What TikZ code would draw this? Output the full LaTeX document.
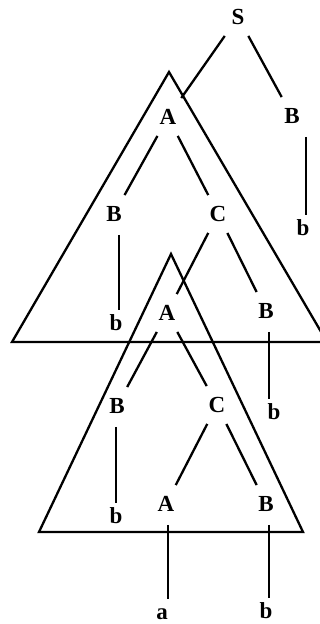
\documentclass[tikz,border=0pt]{standalone}
\usepackage{fontspec}
\setmainfont{Liberation Serif}
\usetikzlibrary{positioning}
\definecolor{TreeInk}{HTML}{000000}
\tikzset{
  sym/.style={
    inner xsep=2pt,
    inner ysep=11pt,
    minimum width=32pt,
    text height=15.5pt,
    text depth=0pt,
    font=\bfseries\fontsize{23}{25}\selectfont,
    text=TreeInk
  },
  leaf/.style={sym,inner ysep=5pt},
  branch/.style={line width=2.3pt,draw=TreeInk},
  stem/.style={branch,shorten <=2pt},
  subtree/.style={line width=2.3pt,draw=TreeInk}
}
\begin{document}
\begin{tikzpicture}[x=1pt,y=-1pt,on grid]
  \path[use as bounding box] (0,0) rectangle (320,624);
  % the two subtree triangles
  \draw[subtree] (169,72) -- (12,342) -- (327,342) -- cycle;
  \draw[subtree] (171,254) -- (39,532) -- (303,532) -- cycle;
  \node[sym] (S) at (238,17) {S};
  \node[sym,below left=100pt and 70pt of S] (A1) {A};
  \node[sym,below right=99pt and 54pt of S] (B0) {B};
  \node[leaf,below right=112pt and 11pt of B0] (b0) {b};
  \node[sym,below left=97pt and 54pt of A1] (B1) {B};
  \node[sym,below right=97pt and 50pt of A1] (C1) {C};
  \node[leaf,below right=109pt and 2pt of B1] (b1) {b};
  \node[sym,below left=99pt and 51pt of C1] (A2) {A};
  \node[sym,below right=97pt and 48pt of C1] (B2) {B};
  \node[leaf,below right=101pt and 8pt of B2] (b2) {b};
  \node[sym,below left=93pt and 50pt of A2] (B3) {B};
  \node[sym,below right=92pt and 50pt of A2] (C3) {C};
  \node[leaf,below left=110pt and 1pt of B3] (b3) {b};
  \node[sym,below left=99pt and 51pt of C3] (A4) {A};
  \node[sym,below right=99pt and 49pt of C3] (B4) {B};
  \node[leaf,below left=108pt and 4pt of A4] (a4) {a};
  \node[leaf,below=107pt of B4] (b4) {b};
  \draw[branch] (S) -- (A1);
  \draw[branch] (S) -- (B0);
  \draw[stem] ([xshift=14pt]B0.south) -- ([xshift=3pt]b0.north);
  \draw[branch] (A1) -- (B1);
  \draw[branch] (A1) -- (C1);
  \draw[stem] ([xshift=5pt]B1.south) -- ([xshift=3pt]b1.north);
  \draw[branch] (C1) -- (A2);
  \draw[branch] (C1) -- (B2);
  \draw[stem] ([xshift=3pt]B2.south) -- ([xshift=-5pt]b2.north);
  \draw[branch] (A2) -- (B3);
  \draw[branch] (A2) -- (C3);
  \draw[stem] ([xshift=-1pt]B3.south) -- (b3.north);
  \draw[branch] (C3) -- (A4);
  \draw[branch] (C3) -- (B4);
  \draw[stem] ([xshift=2pt]A4.south) -- ([xshift=6pt]a4.north);
  \draw[stem] ([xshift=3pt]B4.south) -- ([xshift=3pt]b4.north);
\end{tikzpicture}
\end{document}
